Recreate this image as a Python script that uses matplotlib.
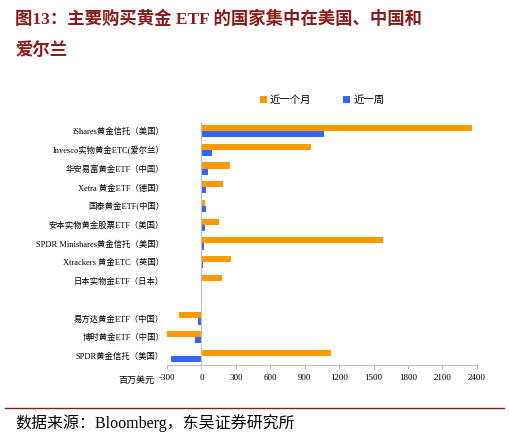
import matplotlib
matplotlib.use("Agg")
import matplotlib.pyplot as plt
import numpy as np

plt.rcParams['font.family'] = ['Liberation Serif', 'Noto Sans CJK SC']

categories = ["iShares黄金信托（美国）", "Invesco实物黄金ETC(爱尔兰）", "华安易富黄金ETF（中国）",
              "Xetra 黄金ETF（德国）", "国泰黄金ETF(中国）", "安本实物黄金股票ETF（美国）",
              "SPDR Minishares黄金信托（美国）", "Xtrackers 黄金ETC（英国）", "日本实物金ETF（日本）",
              "", "易方达黄金ETF（中国）", "博时黄金ETF（中国）", "SPDR黄金信托（美国）"]
month = [2354, 955, 249, 185, 29, 150, 1581, 255, 180, 0, -197, -301, 1129]
week = [1068, 90, 55, 43, 40, 32, 23, 12, 0, 0, -29, -55, -269]
xticks = [-300, 0, 300, 600, 900, 1200, 1500, 1800, 2100, 2400]

fig = plt.figure(figsize=(5.09, 4.41), dpi=100)
fig.text(0.03, 0.975, "图13：主要购买黄金 ETF 的国家集中在美国、中国和", fontsize=12.5, fontweight='bold',
         color='#8B1A1A', va='top')
fig.text(0.03, 0.905, "爱尔兰", fontsize=12.5, fontweight='bold', color='#8B1A1A', va='top')
fig.add_artist(plt.Line2D([0.01, 0.99], [0.075, 0.075], color='#8B1A1A', lw=1.0))
fig.text(0.03, 0.04, "数据来源：Bloomberg，东吴证券研究所", fontsize=11.5, va='center')

ax = fig.add_axes([0.328, 0.172, 0.609, 0.552])
y = np.arange(len(categories))
h = 0.33
ax.barh(y - h/2, month, height=h, color='#FF9900', label='近一个月')
ax.barh(y + h/2, week, height=h, color='#3366FF', label='近一周')
ax.set_yticks(y)
ax.set_yticklabels(categories, fontsize=6)
ax.set_ylim(len(categories) - 0.5, -0.5)
ax.set_xlim(-300, 2400)
ax.set_xticks(xticks)
ax.set_xticklabels([str(v) for v in xticks], fontsize=6.5)
for s in ['top', 'right', 'left']:
    ax.spines[s].set_visible(False)
ax.axvline(0, color='#BFBFBF', lw=0.8)
ax.spines['bottom'].set_color('#BFBFBF')
ax.tick_params(axis='y', length=0, pad=2)
ax.tick_params(axis='x', length=3, color='#BFBFBF')
ax.text(-0.04, -0.045, "百万美元", transform=ax.transAxes, fontsize=6.5, ha='right', va='top')
ax.legend(loc='lower center', bbox_to_anchor=(0.5, 1.03), ncol=2, frameon=False, fontsize=7.5,
          handlelength=0.7, handleheight=0.7, handletextpad=0.3, columnspacing=3)
fig.savefig("out.png", dpi=100)
